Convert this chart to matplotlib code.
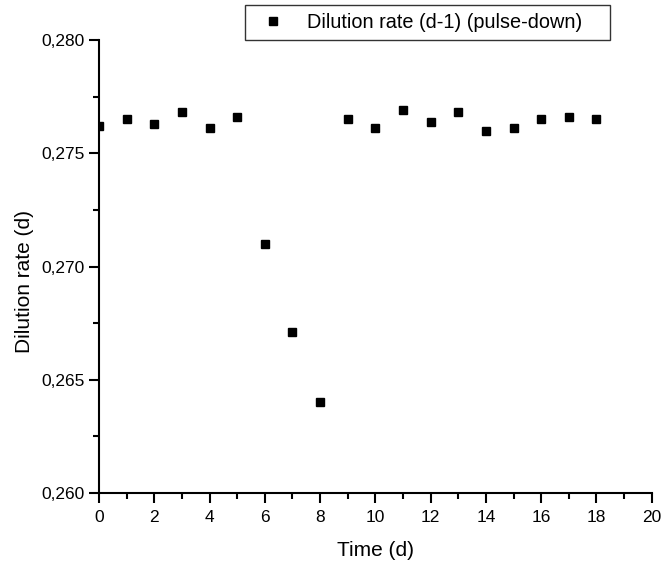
import numpy as np
import matplotlib.pyplot as plt
from matplotlib.ticker import MultipleLocator, FuncFormatter

time_d = [0, 1, 2, 3, 4, 5, 6, 7, 8, 9, 10, 11, 12, 13, 14, 15, 16, 17, 18]
dilution = [0.2762, 0.2765, 0.2763, 0.2768, 0.2761, 0.2766, 0.2710, 0.2671, 0.2640,
            0.2765, 0.2761, 0.2769, 0.2764, 0.2768, 0.2760, 0.2761, 0.2765, 0.2766, 0.2765]

plt.rcParams['font.family'] = ['Liberation Sans', 'DejaVu Sans']

fig = plt.figure(figsize=(6.62, 5.65), dpi=100)
ax = fig.add_axes([0.1495, 0.1274, 0.835, 0.8018])

ax.plot(time_d, dilution, 's', color='black', ms=6, label='Dilution rate (d-1) (pulse-down)')

ax.set_xlim(0, 20)
ax.set_ylim(0.260, 0.280)
ax.xaxis.set_major_locator(MultipleLocator(2))
ax.xaxis.set_minor_locator(MultipleLocator(1))
ax.yaxis.set_major_locator(MultipleLocator(0.005))
ax.yaxis.set_minor_locator(MultipleLocator(0.0025))
ax.yaxis.set_major_formatter(FuncFormatter(lambda v, p: '{:.3f}'.format(v).replace('.', ',')))

for s in ['top', 'right']:
    ax.spines[s].set_visible(False)
for s in ['left', 'bottom']:
    ax.spines[s].set_linewidth(1.5)
ax.tick_params(which='major', length=7, width=1.5, labelsize=12.5)
ax.tick_params(axis='x', which='major', pad=5)
ax.tick_params(which='minor', length=4, width=1.5)

ax.set_xlabel('Time (d)', fontsize=15, labelpad=12)
ax.set_ylabel('Dilution rate (d)', fontsize=15)
ax.yaxis.set_label_coords(-0.118, 0.468)

leg = ax.legend(loc='lower left', bbox_to_anchor=(0.264, 1.0, 0.660, 0), mode='expand',
                borderaxespad=0, fontsize=14.3, frameon=True, fancybox=False,
                edgecolor='black', borderpad=0.40, handletextpad=0.70, handlelength=2.02)
leg.get_frame().set_linewidth(1.0)

plt.savefig('out.png', dpi=100)
